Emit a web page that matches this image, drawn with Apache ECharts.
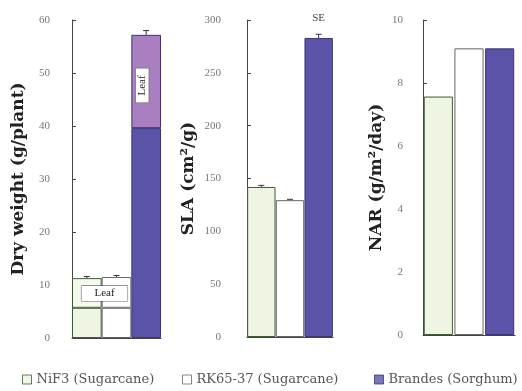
<!DOCTYPE html>
<html><head><meta charset="utf-8">
<script src="https://cdn.jsdelivr.net/npm/echarts@6/dist/echarts.min.js"></script>
<style>html,body{margin:0;padding:0;background:#fff}#c{width:522px;height:391px}</style>
</head><body><div id="c"></div>
<script>
const cultivars = ['NiF3 (Sugarcane)', 'RK65-37 (Sugarcane)', 'Brandes (Sorghum)'];
const stemWeight = [5.7, 5.7, 39.6];
const leafWeight = [5.6, 5.8, 17.6];
const totalWeightSE = [0.3, 0.3, 0.8];
const slaValues = [142, 129.5, 283];
const slaSE = [1.5, 0.8, 3.5];
const narValues = [7.57, 9.1, 9.1];
const dryTicks = {min: 0, max: 60, interval: 10};
const slaTicks = {min: 0, max: 300, interval: 50};
const narTicks = {min: 0, max: 10, interval: 2};

const fills = ['#eef5e2', '#ffffff', '#5a53a8'];
const leafFills = ['#f5f9ee', '#ffffff', '#a97fc2'];
const borders = ['#3f5a36', '#666666', '#3b3577'];
const serif = 'Liberation Serif';
const titleFont = {fontFamily: 'DejaVu Serif', fontWeight: 'bold', fontSize: 17, color: '#222'};

function yAxis(grid, ticks, name, gap, margin) {
  return {
    type: 'value', gridIndex: grid, min: ticks.min, max: ticks.max, interval: ticks.interval,
    name: name, nameLocation: 'middle', nameRotate: 90, nameGap: gap, nameTextStyle: titleFont,
    axisLine: {show: true, lineStyle: {color: '#444', width: 1}},
    axisTick: {show: true, inside: true, length: 4, lineStyle: {color: '#444'}},
    axisLabel: {fontFamily: serif, fontSize: 11, color: '#777', margin: margin},
    splitLine: {show: false}
  };
}
function xAxis(grid) {
  return {
    type: 'category', gridIndex: grid, data: cultivars,
    axisLine: {show: true, lineStyle: {color: '#444', width: 1}},
    axisTick: {show: false}, axisLabel: {show: false}
  };
}
function styled(values, fillArr) {
  return values.map((v, i) => ({value: v, itemStyle: {color: fillArr[i], borderColor: borders[i], borderWidth: 1}}));
}
function errorSeries(xi, yi, tops, ses) {
  return {
    type: 'custom', xAxisIndex: xi, yAxisIndex: yi, z: 5,
    data: tops.map((v, i) => [i, v, ses[i]]),
    encode: {x: 0, y: 1},
    renderItem: function (params, api) {
      const i = api.value(0), v = api.value(1), e = api.value(2);
      const p0 = api.coord([i, v]);
      const p1 = api.coord([i, v + e]);
      const w = 3;
      return {type: 'group', children: [
        {type: 'line', shape: {x1: p0[0], y1: p0[1], x2: p1[0], y2: p1[1]}, style: {stroke: '#333', lineWidth: 1}},
        {type: 'line', shape: {x1: p1[0] - w, y1: p1[1], x2: p1[0] + w, y2: p1[1]}, style: {stroke: '#333', lineWidth: 1}}
      ]};
    }
  };
}

const totals = stemWeight.map((s, i) => s + leafWeight[i]);
const leafData = styled(leafWeight, leafFills);
const leafLabelBase = {show: true, formatter: 'Leaf', fontFamily: serif, fontSize: 11, color: '#222', backgroundColor: '#fff', borderColor: '#444', borderWidth: 0.5};
leafData[1].label = Object.assign({}, leafLabelBase, {position: 'inside', offset: [-12, 1], padding: [2, 13]});
leafData[2].label = Object.assign({}, leafLabelBase, {position: 'inside', rotate: 90, offset: [-4, -4], padding: [1, 7]});
const slaData = styled(slaValues, fills);
slaData[2].label = {show: true, position: 'top', distance: 14, formatter: 'SE', fontFamily: serif, fontSize: 11, color: '#444'};

const option = {
  animation: false,
  backgroundColor: '#fff',
  grid: [
    {left: 72, top: 20, width: 89, height: 318},
    {left: 247, top: 20, width: 86, height: 317},
    {left: 423, top: 20, width: 92, height: 315}
  ],
  xAxis: [xAxis(0), xAxis(1), xAxis(2)],
  yAxis: [
    yAxis(0, dryTicks, 'Dry weight (g/plant)', 45, 22),
    yAxis(1, slaTicks, 'SLA (cm\u00b2/g)', 50, 26),
    yAxis(2, narTicks, 'NAR (g/m\u00b2/day)', 38, 20)
  ],
  legend: cultivars.map((name, i) => ({
    data: [{name: name, itemStyle: {color: fills[i], borderColor: borders[i], borderWidth: 1}}],
    left: [22, 182, 374][i], top: 373, padding: 0, icon: 'rect', itemWidth: 9, itemHeight: 9,
    textStyle: {fontFamily: 'DejaVu Serif', fontSize: 13, color: '#555'},
    selectedMode: false
  })),
  series: [
    {type: 'bar', name: 'stem', xAxisIndex: 0, yAxisIndex: 0, stack: 'dw', barCategoryGap: '0%', data: styled(stemWeight, fills)},
    {type: 'bar', name: 'leaf', xAxisIndex: 0, yAxisIndex: 0, stack: 'dw', barCategoryGap: '0%', data: leafData},
    errorSeries(0, 0, totals, totalWeightSE),
    {type: 'bar', name: 'sla', xAxisIndex: 1, yAxisIndex: 1, barCategoryGap: '1%', data: slaData},
    errorSeries(1, 1, slaValues, slaSE),
    {type: 'bar', name: 'nar', xAxisIndex: 2, yAxisIndex: 2, barCategoryGap: '5%', data: styled(narValues, fills)},
    ...cultivars.map((name, i) => ({type: 'scatter', name: name, xAxisIndex: 0, yAxisIndex: 0, data: [], itemStyle: {color: fills[i]}}))
  ]
};
const chart = echarts.init(document.getElementById('c'), null, {renderer: 'canvas'});
chart.setOption(option);
</script></body></html>
